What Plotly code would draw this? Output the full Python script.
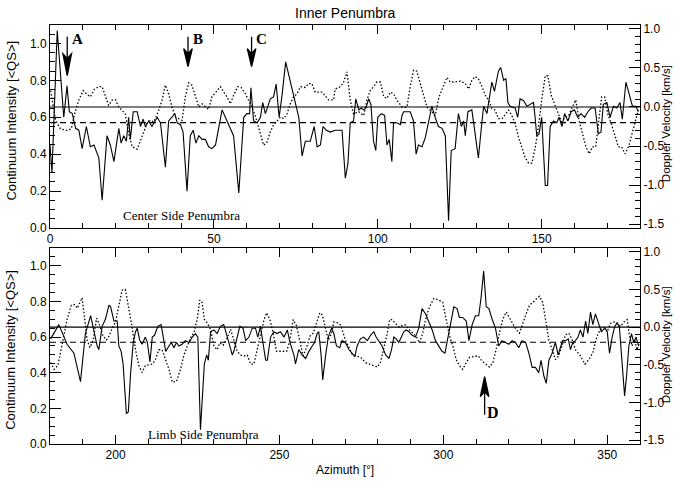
import plotly.graph_objects as go

# ---------------- data (azimuth [deg], value) ----------------
# Center side penumbra: continuum intensity [<QS>] (solid, left axis)
top_intensity = [
    (0, 0.45), (0.6, 0.30), (2.2, 1.07), (4.2, 0.60), (5.2, 0.77), (5.9, 0.63), (6.8, 0.62), (7.8, 0.54),
    (8.8, 0.53), (9.8, 0.43), (11.1, 0.55), (12.3, 0.44), (13.4, 0.45), (14.9, 0.38), (15.9, 0.15), (17.4, 0.50),
    (18.4, 0.45), (19.5, 0.36), (21.0, 0.54), (21.7, 0.46), (22.5, 0.50), (23.3, 0.47), (24.0, 0.60), (24.5, 0.48),
    (25.4, 0.63), (26.6, 0.63), (27.6, 0.55), (28.4, 0.59), (29.1, 0.55), (30.1, 0.58), (31.1, 0.55), (32.7, 0.60),
    (33.7, 0.57), (34.4, 0.46), (35.2, 0.33), (36.2, 0.58), (37.2, 0.60), (38.1, 0.62), (38.8, 0.57), (39.8, 0.56),
    (40.6, 0.52), (41.8, 0.20), (42.8, 0.50), (43.7, 0.53), (44.5, 0.46), (45.4, 0.50), (46.4, 0.48), (47.4, 0.48),
    (48.4, 0.44), (49.4, 0.43), (50.5, 0.45), (52.5, 0.64), (53.5, 0.60), (54.5, 0.56), (56.0, 0.50), (57.6, 0.19),
    (58.6, 0.50), (59.1, 0.60), (60.1, 0.62), (60.9, 0.62), (61.3, 0.76), (62.1, 0.58), (63.2, 0.57), (64.2, 0.60),
    (64.9, 0.68), (65.7, 0.62), (66.5, 0.66), (67.2, 0.70), (68.2, 0.71), (69.0, 0.78), (69.9, 0.60), (70.8, 0.72),
    (71.9, 0.90), (73.3, 0.79), (74.9, 0.68), (75.9, 0.60), (76.9, 0.39), (77.9, 0.47), (79.4, 0.47), (80.6, 0.55),
    (81.5, 0.44), (82.5, 0.45), (83.3, 0.55), (84.3, 0.53), (85.5, 0.52), (87.0, 0.53), (89.1, 0.53), (89.6, 0.42),
    (90.1, 0.27), (90.9, 0.35), (91.6, 0.57), (92.6, 0.58), (93.3, 0.70), (94.2, 0.64), (95.0, 0.65), (95.7, 0.64),
    (96.4, 0.65), (97.2, 0.70), (97.9, 0.67), (98.7, 0.47), (99.4, 0.42), (100.0, 0.60), (101.1, 0.62), (102.1, 0.61),
    (102.8, 0.45), (103.5, 0.48), (104.3, 0.36), (104.8, 0.57), (105.8, 0.57), (106.9, 0.56), (107.4, 0.61), (107.9, 0.63),
    (109.9, 0.63), (110.9, 0.58), (111.7, 0.40), (112.4, 0.45), (113.5, 0.44), (114.5, 0.49), (115.5, 0.57), (116.5, 0.66),
    (117.5, 0.60), (118.5, 0.55), (119.6, 0.54), (120.6, 0.50), (121.6, 0.04), (122.4, 0.42), (123.6, 0.43), (124.6, 0.62),
    (125.5, 0.55), (126.2, 0.58), (126.7, 0.50), (127.5, 0.63), (128.7, 0.64), (129.7, 0.50), (130.7, 0.38), (131.8, 0.58),
    (132.3, 0.66), (133.3, 0.62), (134.8, 0.79), (135.6, 0.74), (136.8, 0.85), (137.5, 0.87), (138.4, 0.80), (139.1, 0.81),
    (139.7, 0.68), (140.4, 0.66), (141.9, 0.65), (142.7, 0.60), (143.4, 0.70), (144.5, 0.69), (145.5, 0.66), (146.5, 0.67),
    (147.5, 0.68), (148.0, 0.60), (148.5, 0.50), (149.2, 0.51), (150.0, 0.60), (151.1, 0.23), (151.8, 0.23), (152.6, 0.55),
    (153.6, 0.58), (154.6, 0.57), (155.3, 0.60), (156.2, 0.55), (157.0, 0.62), (158.0, 0.58), (159.0, 0.63), (160.0, 0.64),
    (161.0, 0.60), (162.0, 0.62), (163.1, 0.60), (164.1, 0.63), (165.1, 0.65), (166.3, 0.65), (167.3, 0.51), (168.1, 0.52),
    (168.8, 0.67), (169.9, 0.68), (170.9, 0.60), (171.9, 0.66), (172.9, 0.65), (173.9, 0.68), (174.6, 0.59), (175.7, 0.79),
    (176.7, 0.72), (177.7, 0.66), (178.7, 0.66), (179.5, 0.63),
]

# Center side penumbra: Doppler velocity [km/s] (dotted, right axis)
top_doppler = [
    (0.2, 0.21), (1.7, -0.17), (3.2, -0.28), (5.2, -0.30), (6.5, -0.28), (7.5, -0.09), (8.8, 0.09), (10.1, 0.21),
    (11.1, 0.17), (12.3, 0.13), (13.6, 0.23), (14.9, 0.26), (15.9, 0.26), (16.9, 0.13), (17.9, 0.02), (19.0, 0.09),
    (20.0, 0.09), (21.0, 0.00), (22.0, -0.04), (23.0, -0.09), (24.0, -0.34), (25.1, -0.51), (26.6, -0.54), (27.6, -0.43),
    (28.6, -0.32), (29.6, -0.21), (30.6, -0.17), (31.7, -0.19), (33.2, -0.04), (34.2, 0.09), (35.2, 0.28), (36.2, 0.17),
    (37.2, 0.00), (38.3, -0.13), (39.3, -0.15), (40.3, -0.17), (41.3, 0.13), (42.3, 0.31), (43.3, 0.28), (44.4, 0.13),
    (45.4, 0.00), (46.4, 0.04), (47.4, 0.01), (48.4, -0.03), (49.4, 0.13), (50.5, 0.19), (52.0, 0.26), (53.0, 0.19),
    (54.0, 0.13), (55.0, 0.04), (56.0, 0.15), (57.3, 0.26), (58.3, 0.25), (59.6, 0.17), (60.6, 0.09), (61.6, 0.00),
    (62.6, -0.11), (63.7, -0.26), (65.2, -0.49), (66.2, -0.45), (67.2, -0.32), (68.2, -0.23), (69.3, -0.17), (70.3, -0.13),
    (71.3, -0.15), (72.3, -0.09), (73.3, 0.04), (74.3, 0.13), (75.4, 0.17), (76.4, 0.26), (77.9, 0.25), (78.9, 0.30),
    (79.9, 0.30), (80.9, 0.19), (81.9, 0.19), (83.0, 0.19), (85.0, 0.09), (86.5, 0.09), (87.0, 0.23), (88.6, 0.26),
    (89.6, 0.32), (90.6, 0.45), (91.6, 0.09), (92.6, -0.09), (94.2, -0.06), (95.7, -0.11), (96.7, 0.09), (97.7, 0.21),
    (98.7, 0.26), (99.7, 0.32), (100.8, 0.32), (101.8, 0.13), (102.8, 0.11), (103.8, 0.19), (104.8, 0.17), (105.8, 0.09),
    (107.4, 0.00), (108.9, 0.00), (109.9, 0.26), (110.9, 0.47), (111.9, 0.46), (112.9, 0.30), (114.0, 0.13), (115.0, 0.00),
    (116.5, -0.06), (117.5, -0.11), (118.7, 0.13), (120.1, 0.28), (121.1, 0.38), (122.1, 0.32), (123.6, 0.32), (125.2, 0.33),
    (126.7, 0.30), (127.7, 0.23), (128.7, 0.34), (129.7, 0.39), (130.7, 0.36), (131.8, 0.26), (132.8, 0.15), (133.8, 0.09),
    (134.8, -0.02), (135.8, -0.04), (136.8, -0.15), (137.9, -0.15), (138.9, -0.09), (139.9, -0.04), (140.9, -0.11), (141.9, -0.21),
    (142.9, -0.38), (143.9, -0.51), (144.9, -0.64), (146.0, -0.72), (147.0, -0.72), (148.0, -0.53), (149.0, -0.26), (150.0, 0.09),
    (151.1, 0.40), (151.9, 0.40), (152.9, 0.15), (153.9, 0.04), (155.1, -0.09), (156.1, -0.19), (157.2, -0.13), (158.2, -0.11),
    (159.4, 0.00), (160.4, 0.09), (161.4, -0.17), (162.4, -0.34), (163.5, -0.51), (164.5, -0.60), (165.5, -0.51), (166.5, -0.51),
    (167.5, -0.17), (168.3, 0.13), (169.2, 0.13), (170.2, -0.09), (171.2, -0.21), (172.2, -0.34), (173.4, -0.51), (174.4, -0.51),
    (175.4, -0.60), (176.5, -0.51), (177.5, -0.34), (178.5, -0.17), (179.5, -0.04),
]

# Limb side penumbra: continuum intensity (solid, left axis)
bottom_intensity = [
    (180.2, 0.59), (182.7, 0.67), (185.2, 0.56), (187.3, 0.51), (189.3, 0.35), (190.8, 0.62), (192.4, 0.72), (193.7, 0.60),
    (194.4, 0.55), (194.9, 0.53), (195.9, 0.66), (196.9, 0.70), (198.0, 0.78), (198.5, 0.77), (199.5, 0.69), (200.5, 0.69),
    (201.0, 0.55), (201.7, 0.52), (202.3, 0.45), (203.3, 0.17), (203.9, 0.18), (204.6, 0.40), (205.4, 0.57), (206.1, 0.63),
    (206.6, 0.65), (207.4, 0.58), (208.1, 0.56), (209.1, 0.60), (209.7, 0.57), (210.5, 0.46), (211.2, 0.60), (211.9, 0.61),
    (212.9, 0.66), (213.9, 0.67), (214.7, 0.57), (215.3, 0.52), (216.3, 0.55), (217.0, 0.57), (217.8, 0.54), (218.6, 0.57),
    (219.3, 0.55), (220.3, 0.56), (221.3, 0.58), (222.4, 0.57), (223.4, 0.60), (224.4, 0.62), (225.1, 0.60), (225.9, 0.08),
    (227.1, 0.45), (227.8, 0.50), (228.3, 0.47), (229.0, 0.63), (230.0, 0.64), (231.0, 0.62), (232.0, 0.66), (233.0, 0.67),
    (234.1, 0.60), (234.9, 0.55), (235.6, 0.50), (236.1, 0.52), (237.1, 0.60), (237.9, 0.66), (238.9, 0.65), (239.7, 0.58),
    (240.7, 0.60), (241.7, 0.65), (242.7, 0.65), (243.4, 0.60), (244.2, 0.66), (245.8, 0.47), (246.3, 0.47), (247.3, 0.60),
    (248.3, 0.63), (249.3, 0.62), (250.3, 0.63), (251.4, 0.60), (252.4, 0.64), (253.2, 0.57), (254.4, 0.50), (254.9, 0.45),
    (255.9, 0.53), (256.9, 0.50), (258.0, 0.48), (259.0, 0.52), (260.0, 0.55), (260.7, 0.57), (261.5, 0.62), (262.0, 0.63),
    (262.7, 0.50), (263.2, 0.36), (264.1, 0.50), (264.9, 0.60), (265.9, 0.65), (266.6, 0.62), (267.4, 0.55), (268.4, 0.54),
    (269.1, 0.58), (270.1, 0.57), (271.2, 0.53), (272.2, 0.51), (273.0, 0.49), (273.7, 0.55), (274.7, 0.59), (275.7, 0.60),
    (276.8, 0.58), (277.8, 0.61), (278.8, 0.63), (279.5, 0.60), (280.3, 0.58), (281.3, 0.55), (282.4, 0.50), (283.4, 0.48),
    (284.2, 0.53), (284.9, 0.60), (285.6, 0.59), (286.4, 0.57), (287.2, 0.60), (287.9, 0.63), (288.7, 0.64), (289.5, 0.63),
    (290.5, 0.61), (291.5, 0.60), (292.5, 0.65), (293.5, 0.76), (294.6, 0.73), (295.6, 0.69), (296.6, 0.64), (297.6, 0.58),
    (298.6, 0.55), (299.6, 0.52), (300.5, 0.51), (301.2, 0.58), (302.2, 0.69), (303.2, 0.77), (304.2, 0.76), (304.9, 0.71),
    (305.9, 0.71), (307.0, 0.69), (307.8, 0.58), (308.8, 0.67), (309.8, 0.72), (310.8, 0.72), (311.5, 0.82), (312.3, 0.97),
    (313.1, 0.77), (313.9, 0.76), (314.9, 0.70), (315.9, 0.65), (316.9, 0.55), (317.9, 0.58), (319.0, 0.57), (320.0, 0.56),
    (321.0, 0.58), (322.0, 0.57), (323.0, 0.54), (324.0, 0.58), (325.1, 0.57), (326.1, 0.51), (327.1, 0.43), (328.1, 0.43),
    (329.1, 0.40), (329.8, 0.47), (330.7, 0.38), (331.4, 0.34), (332.2, 0.47), (333.2, 0.51), (334.2, 0.57), (335.0, 0.50),
    (335.7, 0.54), (336.4, 0.58), (337.3, 0.58), (338.1, 0.59), (338.8, 0.53), (339.5, 0.57), (340.3, 0.58), (341.1, 0.60),
    (341.8, 0.64), (342.6, 0.60), (343.4, 0.69), (344.1, 0.62), (344.9, 0.74), (345.6, 0.67), (346.4, 0.73), (347.2, 0.68),
    (348.2, 0.63), (349.3, 0.65), (350.0, 0.63), (350.7, 0.51), (351.5, 0.60), (352.3, 0.66), (353.0, 0.68), (353.7, 0.66),
    (354.6, 0.43), (355.3, 0.27), (355.9, 0.38), (356.6, 0.55), (357.4, 0.62), (358.1, 0.57), (358.8, 0.60), (359.6, 0.55),
]

# Limb side penumbra: Doppler velocity (dotted, right axis)
bottom_doppler = [
    (180.2, -0.47), (181.2, -0.56), (182.4, -0.51), (183.2, -0.34), (184.2, -0.12), (185.2, 0.10), (186.5, 0.29), (187.5, 0.30),
    (188.3, 0.25), (189.1, 0.33), (189.8, 0.39), (190.5, 0.14), (191.3, -0.17), (192.2, -0.27), (193.2, -0.17), (194.2, 0.12),
    (195.2, 0.02), (196.2, -0.12), (197.2, -0.17), (198.0, -0.12), (199.0, -0.01), (200.0, 0.07), (201.0, 0.27), (202.0, 0.49),
    (203.0, 0.50), (204.0, 0.27), (205.0, 0.01), (206.1, -0.30), (207.1, -0.51), (208.1, -0.60), (209.1, -0.51), (210.1, -0.50),
    (211.2, -0.49), (212.2, -0.43), (213.2, -0.30), (214.2, -0.30), (215.2, -0.43), (216.3, -0.56), (217.3, -0.73), (218.6, -0.72),
    (219.8, -0.56), (220.8, -0.38), (221.9, -0.25), (223.1, -0.12), (223.9, -0.08), (224.9, 0.10), (225.7, 0.36), (226.4, 0.33),
    (227.1, 0.10), (227.9, 0.06), (229.0, -0.03), (230.0, -0.25), (231.0, -0.30), (231.8, -0.21), (232.8, -0.24), (234.1, -0.14),
    (235.1, -0.03), (236.1, -0.17), (237.1, -0.32), (238.1, -0.37), (239.2, -0.38), (240.2, -0.37), (241.2, -0.49), (242.2, -0.49),
    (243.2, -0.30), (244.2, -0.08), (245.3, 0.10), (246.1, 0.19), (247.1, 0.10), (248.1, -0.08), (249.1, -0.32), (250.1, -0.32),
    (251.2, -0.32), (252.2, -0.32), (253.2, -0.17), (254.2, 0.10), (255.2, 0.02), (256.2, -0.17), (257.2, -0.38), (258.3, -0.27),
    (259.3, -0.12), (260.3, -0.08), (261.3, 0.07), (262.3, 0.19), (263.1, 0.16), (264.1, -0.03), (264.9, -0.17), (265.9, -0.08),
    (266.6, 0.07), (267.6, 0.06), (268.6, 0.03), (269.1, -0.03), (270.1, -0.17), (271.2, -0.27), (272.2, -0.36), (273.2, -0.38),
    (274.7, -0.40), (276.3, -0.47), (278.3, -0.50), (279.8, -0.53), (280.8, -0.47), (281.8, -0.30), (282.9, -0.08), (283.6, 0.10),
    (284.4, 0.10), (285.4, 0.05), (286.6, 0.00), (287.4, 0.02), (288.5, 0.03), (289.5, -0.03), (290.7, -0.08), (291.7, -0.12),
    (292.7, -0.21), (293.7, -0.08), (294.8, 0.14), (295.8, 0.27), (297.1, 0.38), (298.6, 0.36), (299.8, 0.33), (300.9, 0.10),
    (301.9, -0.12), (302.9, -0.25), (303.9, -0.43), (304.9, -0.51), (305.9, -0.56), (307.0, -0.47), (308.0, -0.40), (309.3, -0.39),
    (310.6, -0.38), (311.8, -0.45), (313.1, -0.49), (314.1, -0.53), (315.1, -0.47), (316.1, -0.30), (317.1, -0.08), (318.1, 0.10),
    (319.2, 0.20), (320.2, 0.12), (321.2, 0.03), (322.2, -0.03), (323.2, -0.08), (324.2, 0.05), (325.3, 0.18), (326.3, 0.29),
    (327.3, 0.33), (328.3, 0.38), (329.3, 0.41), (330.3, 0.33), (331.2, 0.10), (332.2, -0.17), (333.2, -0.30), (334.2, -0.43),
    (335.2, -0.38), (336.2, -0.25), (337.3, -0.10), (338.3, -0.08), (339.3, -0.17), (340.3, -0.30), (341.8, -0.38), (343.2, -0.49),
    (344.4, -0.43), (345.6, -0.34), (346.9, -0.12), (347.9, -0.03), (349.0, -0.01), (350.0, -0.06), (351.0, 0.05), (352.0, 0.07),
    (353.0, 0.05), (354.1, 0.01), (355.1, 0.07), (356.1, 0.10), (356.8, -0.12), (357.6, -0.25), (358.4, -0.17), (359.1, -0.30),
    (359.8, -0.21),
]

top_x_ticks = [0, 50, 100, 150]
bottom_x_ticks = [200, 250, 300, 350]
intensity_ticks = [0.0, 0.2, 0.4, 0.6, 0.8, 1.0]
intensity_labels = ["0.0", "0.2", "0.4", "0.6", "0.8", "1.0"]
doppler_ticks = [-1.5, -1.0, -0.5, 0.0, 0.5, 1.0]
doppler_labels = ["-1.5", "-1.0", "-0.5", "0.0", "0.5", "1.0"]
doppler_reference_solid = 0.0
doppler_reference_dashed = -0.2

# Marked features: (label, azimuth, intensity at arrow tip)
features_top = [("A", 5.25, 0.825), ("B", 42.1, 0.874), ("C", 61.5, 0.874)]
features_bottom = [("D", 312.6, 0.378)]

# ---------------- figure ----------------
SANS = "Liberation Sans, Arial, Helvetica, sans-serif"
SERIF = "Liberation Serif, Times New Roman, serif"

fig = go.Figure()

def unzip(pairs):
    return [p[0] for p in pairs], [p[1] for p in pairs]

DOTS = "1.5px,2px"
for pairs, xa, ya, dash, w in [
    (top_intensity, "x", "y", "solid", 1.1),
    (top_doppler, "x", "y2", DOTS, 1.3),
    (bottom_intensity, "x2", "y3", "solid", 1.1),
    (bottom_doppler, "x2", "y4", DOTS, 1.3),
]:
    xs, ys = unzip(pairs)
    fig.add_trace(go.Scatter(x=xs, y=ys, xaxis=xa, yaxis=ya, mode="lines",
                             line=dict(color="black", width=w, dash=dash),
                             hoverinfo="skip", showlegend=False))

axis_base = dict(showline=True, linecolor="black", linewidth=1, ticks="inside",
                 tickcolor="black", tickwidth=1, showgrid=False, zeroline=False,
                 tickfont=dict(family=SANS, size=12, color="black"), automargin=False)

top_dom = [0.5155, 1.0]
bot_dom = [0.0, 0.4678]

def xaxis(rng, ticks, anchor):
    d = dict(axis_base)
    d.update(domain=[0, 1], anchor=anchor, range=rng, tickvals=ticks,
             ticktext=[str(t) for t in ticks], ticklen=9, mirror="ticks",
             minor=dict(dtick=10, tick0=0, ticks="inside", ticklen=5, tickcolor="black"))
    return d

def yleft(dom, anchor):
    d = dict(axis_base)
    d.update(domain=dom, anchor=anchor, range=[0, 1.1], tickvals=intensity_ticks,
             ticktext=intensity_labels, ticklen=11,
             minor=dict(dtick=0.05, tick0=0, ticks="inside", ticklen=5, tickcolor="black"))
    return d

def yright(over, anchor):
    d = dict(axis_base)
    d.update(overlaying=over, anchor=anchor, side="right", range=[-1.55, 1.05],
             tickvals=doppler_ticks, ticktext=doppler_labels, ticklen=11,
             minor=dict(dtick=0.1, tick0=0, ticks="inside", ticklen=5, tickcolor="black"))
    return d

fig.update_layout(
    width=675, height=481,
    margin=dict(l=50, r=35, t=25, b=37),
    paper_bgcolor="white", plot_bgcolor="white",
    showlegend=False,
    xaxis=xaxis([0, 180], top_x_ticks, "y"),
    yaxis=yleft(top_dom, "x"),
    yaxis2=yright("y", "x"),
    xaxis2=xaxis([180, 360], bottom_x_ticks, "y3"),
    yaxis3=yleft(bot_dom, "x2"),
    yaxis4=yright("y3", "x2"),
)

# reference levels
for xref, yref in [("x domain", "y2"), ("x2 domain", "y4")]:
    fig.add_shape(type="line", xref=xref, yref=yref, x0=0, x1=1,
                  y0=doppler_reference_solid, y1=doppler_reference_solid,
                  line=dict(color="black", width=1.1))
    fig.add_shape(type="line", xref=xref, yref=yref, x0=0, x1=1,
                  y0=doppler_reference_dashed, y1=doppler_reference_dashed,
                  line=dict(color="black", width=1.1, dash="6px,4px"))

# arrows (pixel-sized paths anchored at the data point)
def arrow_path(length, head, half_w, up=False):
    s = -1 if up else 1
    return (f"M0,{s*length} L0,{s*(head-4)} "
            f"M{-half_w},{s*head} L0,0 L{half_w},{s*head} L0,{s*(head-5)} Z")

arrow_specs = {"A": (39, 22, 4.3, False), "B": (30, 18, 4.3, False),
               "C": (30, 18, 4.3, False), "D": (38, 20, 4.3, True)}

for (lab, az, val), xr, yr in ([(f, "x", "y") for f in features_top] +
                               [(f, "x2", "y3") for f in features_bottom]):
    L, H, W, up = arrow_specs[lab]
    fig.add_shape(type="path", xref=xr, yref=yr, xsizemode="pixel", ysizemode="pixel",
                  xanchor=az, yanchor=val, path=arrow_path(L, H, W, up),
                  fillcolor="black", line=dict(color="black", width=1.3))

letter_pos = {"A": ("x", "y", 8.3, 1.025), "B": ("x", "y", 45.2, 1.025),
              "C": ("x", "y", 64.5, 1.025), "D": ("x2", "y3", 315.1, 0.177)}
for lab, (xr, yr, lx, ly) in letter_pos.items():
    fig.add_annotation(x=lx, y=ly, xref=xr, yref=yr, text=f"<b>{lab}</b>", showarrow=False,
                       font=dict(family=SERIF, size=16 if lab == "D" else 15, color="black"),
                       xanchor="center", yanchor="middle")

# panel labels
fig.add_annotation(x=40.2, y=0.066, xref="x", yref="y", text="Center Side Penumbra",
                   showarrow=False, font=dict(family=SERIF, size=13, color="black"),
                   xanchor="center", yanchor="middle")
fig.add_annotation(x=226.8, y=0.056, xref="x2", yref="y3", text="Limb Side Penumbra",
                   showarrow=False, font=dict(family=SERIF, size=13, color="black"),
                   xanchor="center", yanchor="middle")

# titles
fig.add_annotation(x=0.5, y=1.0286, xref="paper", yref="paper", text="Inner Penumbra",
                   showarrow=False, font=dict(family=SANS, size=14, color="black"),
                   xanchor="center", yanchor="middle")
fig.add_annotation(x=0.5, y=-0.062, xref="paper", yref="paper", text="Azimuth [°]",
                   showarrow=False, font=dict(family=SANS, size=12, color="black"),
                   xanchor="center", yanchor="middle")
for yc in (0.772, 0.225):
    fig.add_annotation(x=-0.066, y=yc, xref="paper", yref="paper",
                       text="Continuum Intensity [&lt;QS&gt;]", textangle=-90,
                       showarrow=False, font=dict(family=SANS, size=13, color="black"),
                       xanchor="center", yanchor="middle")
for yc in (0.764, 0.236):
    fig.add_annotation(x=1.0445, y=yc, xref="paper", yref="paper",
                       text="Doppler Velocity [km/s]", textangle=-90,
                       showarrow=False, font=dict(family=SANS, size=11.5, color="black"),
                       xanchor="center", yanchor="middle")

fig.write_html("out.html")
